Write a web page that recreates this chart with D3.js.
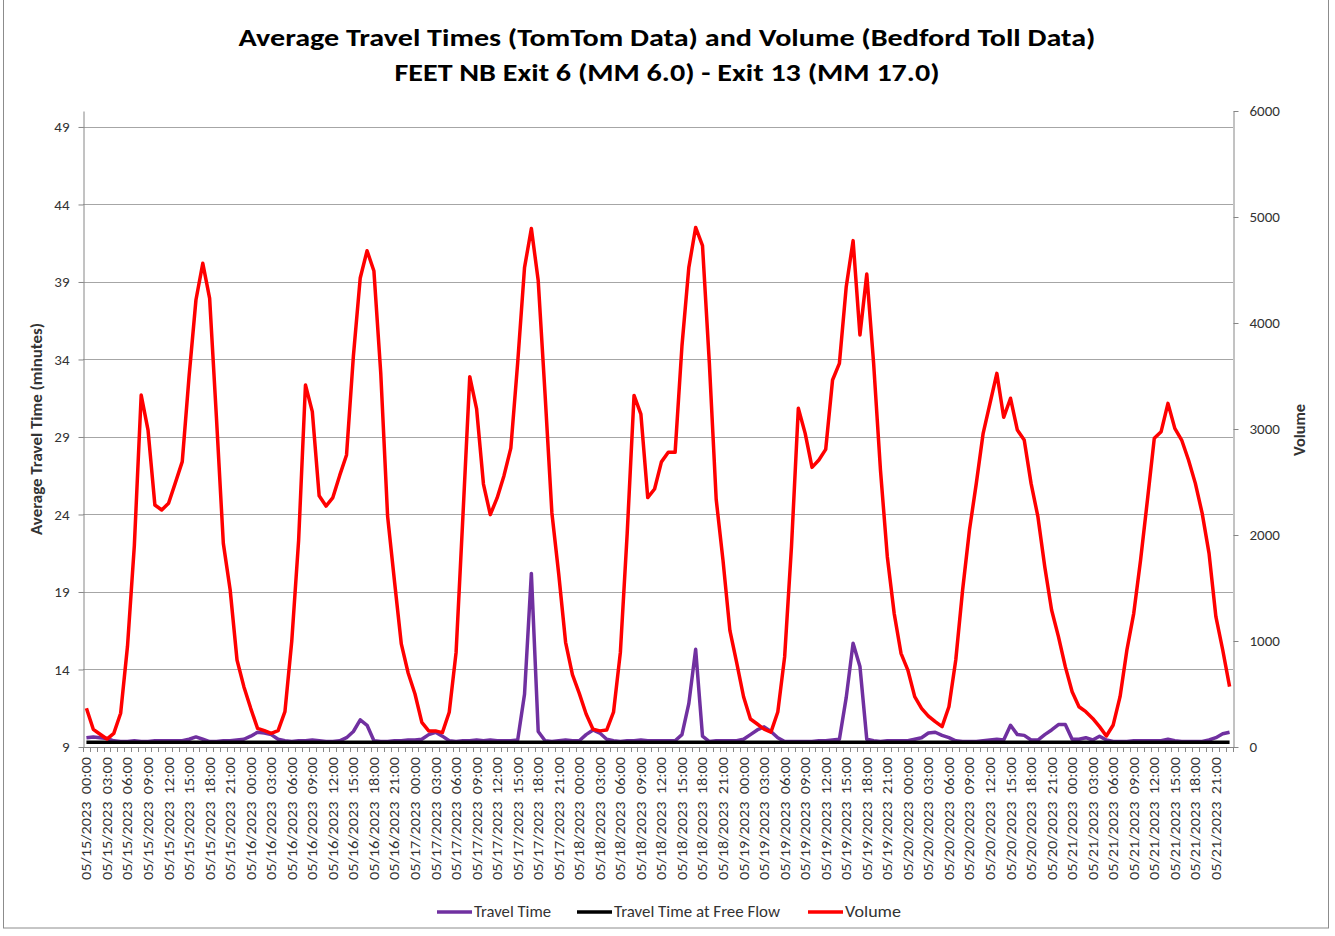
<!DOCTYPE html>
<html>
<head>
<meta charset="utf-8">
<script src="https://cdn.jsdelivr.net/npm/d3@7/dist/d3.min.js"></script>
<style>
body { margin: 0; background: #fff; }
svg { display: block; font-family: Calibri, Carlito, Lato, sans-serif; }
</style>
</head>
<body>
<svg id="chart" width="1335" height="936"></svg>
<script>
// ---- data ----
var days = ["05/15/2023", "05/16/2023", "05/17/2023", "05/18/2023", "05/19/2023", "05/20/2023", "05/21/2023"];
var hours = ["00:00", "01:00", "02:00", "03:00", "04:00", "05:00", "06:00", "07:00", "08:00", "09:00", "10:00", "11:00",
	"12:00", "13:00", "14:00", "15:00", "16:00", "17:00", "18:00", "19:00", "20:00", "21:00", "22:00", "23:00"];

// hourly volume (Bedford toll), one row per day
var volume = [
	365, 167, 120, 75, 129, 318, 950, 1900, 3320, 2990, 2283, 2236, 2299, 2494, 2692, 3500, 4217, 4563, 4233, 3100, 1921, 1481, 821, 569,
	365, 176, 154, 129, 154, 333, 1000, 1950, 3415, 3164, 2370, 2273, 2353, 2562, 2755, 3687, 4425, 4682, 4490, 3525, 2176, 1566, 972, 698,
	500, 232, 152, 152, 136, 328, 890, 2176, 3494, 3189, 2481, 2192, 2350, 2560, 2819, 3623, 4522, 4892, 4400, 3330, 2208, 1630, 988, 682,
	506, 312, 168, 152, 160, 328, 890, 2016, 3317, 3141, 2353, 2434, 2690, 2780, 2780, 3783, 4522, 4901, 4731, 3623, 2337, 1758, 1100, 794,
	474, 264, 217, 168, 140, 330, 850, 1890, 3195, 2959, 2638, 2708, 2808, 3462, 3619, 4343, 4777, 3887, 4462, 3619, 2613, 1795, 1261, 884,
	726, 475, 365, 292, 239, 192, 380, 821, 1481, 2047, 2487, 2959, 3242, 3525, 3110, 3290, 2990, 2896, 2487, 2173, 1701, 1292, 1041, 758,
	522, 380, 333, 270, 192, 104, 208, 475, 915, 1261, 1764, 2330, 2912, 2975, 3242, 3006, 2896, 2708, 2487, 2204, 1827, 1229, 915, 569
];

// hourly average travel time (TomTom), minutes
var travelTime = [
	9.6, 9.65, 9.6, 9.55, 9.4, 9.35, 9.35, 9.4, 9.35, 9.35, 9.4, 9.4, 9.4, 9.4, 9.4, 9.5, 9.65, 9.5, 9.35, 9.35, 9.4, 9.4, 9.45, 9.5,
	9.7, 9.95, 9.9, 9.8, 9.5, 9.4, 9.35, 9.4, 9.4, 9.45, 9.4, 9.35, 9.35, 9.4, 9.6, 10.0, 10.75, 10.4, 9.4, 9.35, 9.35, 9.4, 9.4, 9.45,
	9.45, 9.5, 9.8, 9.95, 9.7, 9.4, 9.35, 9.4, 9.4, 9.45, 9.4, 9.45, 9.4, 9.4, 9.4, 9.45, 12.4, 20.2, 10.0, 9.4, 9.35, 9.4, 9.45, 9.4,
	9.4, 9.8, 10.1, 9.9, 9.5, 9.4, 9.35, 9.4, 9.4, 9.45, 9.4, 9.4, 9.4, 9.4, 9.4, 9.8, 11.8, 15.3, 9.7, 9.35, 9.4, 9.4, 9.4, 9.4,
	9.5, 9.8, 10.1, 10.3, 10.0, 9.6, 9.35, 9.35, 9.35, 9.35, 9.35, 9.4, 9.4, 9.45, 9.5, 12.2, 15.7, 14.2, 9.5, 9.4, 9.35, 9.4, 9.4, 9.4,
	9.4, 9.5, 9.6, 9.9, 9.95, 9.75, 9.6, 9.4, 9.35, 9.35, 9.35, 9.4, 9.45, 9.5, 9.45, 10.4, 9.8, 9.75, 9.45, 9.45, 9.8, 10.1, 10.45, 10.45,
	9.5, 9.5, 9.6, 9.45, 9.7, 9.45, 9.35, 9.35, 9.35, 9.4, 9.4, 9.4, 9.4, 9.4, 9.5, 9.4, 9.35, 9.35, 9.35, 9.35, 9.45, 9.6, 9.85, 9.95
];

// travel time at free flow, minutes
var freeFlow = [
	9.3, 9.3, 9.3, 9.3, 9.3, 9.3, 9.3, 9.3, 9.3, 9.3, 9.3, 9.3, 9.3, 9.3, 9.3, 9.3, 9.3, 9.3, 9.3, 9.3, 9.3, 9.3, 9.3, 9.3,
	9.3, 9.3, 9.3, 9.3, 9.3, 9.3, 9.3, 9.3, 9.3, 9.3, 9.3, 9.3, 9.3, 9.3, 9.3, 9.3, 9.3, 9.3, 9.3, 9.3, 9.3, 9.3, 9.3, 9.3,
	9.3, 9.3, 9.3, 9.3, 9.3, 9.3, 9.3, 9.3, 9.3, 9.3, 9.3, 9.3, 9.3, 9.3, 9.3, 9.3, 9.3, 9.3, 9.3, 9.3, 9.3, 9.3, 9.3, 9.3,
	9.3, 9.3, 9.3, 9.3, 9.3, 9.3, 9.3, 9.3, 9.3, 9.3, 9.3, 9.3, 9.3, 9.3, 9.3, 9.3, 9.3, 9.3, 9.3, 9.3, 9.3, 9.3, 9.3, 9.3,
	9.3, 9.3, 9.3, 9.3, 9.3, 9.3, 9.3, 9.3, 9.3, 9.3, 9.3, 9.3, 9.3, 9.3, 9.3, 9.3, 9.3, 9.3, 9.3, 9.3, 9.3, 9.3, 9.3, 9.3,
	9.3, 9.3, 9.3, 9.3, 9.3, 9.3, 9.3, 9.3, 9.3, 9.3, 9.3, 9.3, 9.3, 9.3, 9.3, 9.3, 9.3, 9.3, 9.3, 9.3, 9.3, 9.3, 9.3, 9.3,
	9.3, 9.3, 9.3, 9.3, 9.3, 9.3, 9.3, 9.3, 9.3, 9.3, 9.3, 9.3, 9.3, 9.3, 9.3, 9.3, 9.3, 9.3, 9.3, 9.3, 9.3, 9.3, 9.3, 9.3
];

var leftTicks = [9, 14, 19, 24, 29, 34, 39, 44, 49];
var rightTicks = [0, 1000, 2000, 3000, 4000, 5000, 6000];

var series = [
	{ name: "Travel Time", color: "#7030a0" },
	{ name: "Travel Time at Free Flow", color: "#000000" },
	{ name: "Volume", color: "#ff0000" }
];

// ---- layout ----
var svg = d3.select("#chart");
var plot = { left: 83, right: 1233, top: 111, bottom: 747 };
var textColor = "#333333";

var categories = [];
days.forEach(function (d) {
	hours.forEach(function (h) { categories.push(d + "  " + h); });
});

var x = d3.scaleBand().domain(categories).range([plot.left, plot.right]);
var xc = function (c) { return x(c) + x.bandwidth() / 2; };
var yLeft = d3.scaleLinear().domain([9, 50.03]).range([plot.bottom, plot.top]);
var yRight = d3.scaleLinear().domain([0, 6000]).range([plot.bottom, plot.top]);

svg.append("rect").attr("width", 1335).attr("height", 936).attr("fill", "#fff");
svg.append("rect")
	.attr("x", 3.5).attr("y", -2).attr("width", 1325).attr("height", 930)
	.attr("fill", "none").attr("stroke", "#8c8c8c").attr("stroke-width", 1);

// titles
var title = svg.append("g").attr("font-weight", "bold").attr("fill", "#000").attr("text-anchor", "middle");
title.append("text").attr("x", 667).attr("y", 46).attr("font-size", 25)
	.attr("textLength", 857).attr("lengthAdjust", "spacingAndGlyphs")
	.text("Average Travel Times (TomTom Data) and Volume (Bedford Toll Data)");
title.append("text").attr("x", 667).attr("y", 81).attr("font-size", 25)
	.attr("textLength", 545).attr("lengthAdjust", "spacingAndGlyphs")
	.text("FEET NB Exit 6 (MM 6.0) - Exit 13 (MM 17.0)");

// gridlines
svg.append("g").selectAll("line")
	.data(leftTicks)
	.enter().append("line")
	.attr("x1", plot.left).attr("x2", plot.right)
	.attr("y1", function (d) { return Math.round(yLeft(d)) + 0.5; })
	.attr("y2", function (d) { return Math.round(yLeft(d)) + 0.5; })
	.attr("stroke", "#a6a6a6").attr("stroke-width", 1);

// left axis
var gLeft = svg.append("g")
	.attr("transform", "translate(" + (plot.left + 0.5) + ",0)")
	.call(d3.axisLeft(yLeft).tickValues(leftTicks).tickSizeInner(5).tickSizeOuter(0).tickPadding(9));
// right axis
var gRight = svg.append("g")
	.attr("transform", "translate(" + (plot.right + 0.5) + ",0)")
	.call(d3.axisRight(yRight).tickValues(rightTicks).tickFormat(d3.format("d"))
		.tickSizeInner(5).tickSizeOuter(0).tickPadding(11));

[gLeft, gRight].forEach(function (g) {
	g.select(".domain").attr("stroke", "#868686");
	g.selectAll(".tick line").attr("stroke", "#868686");
	g.selectAll(".tick text").attr("fill", textColor).attr("font-size", 15)
		.attr("font-family", "Calibri, Carlito, Lato, sans-serif");
});

// x axis: line, ticks between categories, labels every 3 hours
var gx = svg.append("g");
gx.append("line")
	.attr("x1", plot.left).attr("x2", plot.right + 1)
	.attr("y1", plot.bottom + 0.5).attr("y2", plot.bottom + 0.5)
	.attr("stroke", "#868686");
gx.selectAll(".xt")
	.data(categories.concat(["end"]))
	.enter().append("line")
	.attr("class", "xt")
	.attr("x1", function (d) { return Math.round(d === "end" ? plot.right : x(d)) + 0.5; })
	.attr("x2", function (d) { return Math.round(d === "end" ? plot.right : x(d)) + 0.5; })
	.attr("y1", plot.bottom).attr("y2", plot.bottom + 5)
	.attr("stroke", "#868686");
gx.selectAll(".xl")
	.data(categories.filter(function (d, i) { return i % 3 === 0; }))
	.enter().append("text")
	.attr("class", "xl")
	.attr("transform", function (d) { return "translate(" + (xc(d) + 5) + "," + (plot.bottom + 10) + ") rotate(-90)"; })
	.attr("text-anchor", "end")
	.attr("font-size", 14)
	.attr("fill", textColor)
	.attr("textLength", 123).attr("lengthAdjust", "spacingAndGlyphs")
	.style("white-space", "pre")
	.text(function (d) { return d; });

// axis titles
svg.append("text")
	.attr("transform", "translate(42,429) rotate(-90)")
	.attr("text-anchor", "middle").attr("font-size", 15).attr("font-weight", "bold").attr("fill", textColor)
	.attr("textLength", 212).attr("lengthAdjust", "spacingAndGlyphs")
	.text("Average Travel Time (minutes)");
svg.append("text")
	.attr("transform", "translate(1305,430) rotate(-90)")
	.attr("text-anchor", "middle").attr("font-size", 15).attr("font-weight", "bold").attr("fill", textColor)
	.attr("textLength", 52).attr("lengthAdjust", "spacingAndGlyphs")
	.text("Volume");

// lines
var lineLeft = d3.line()
	.x(function (d, i) { return xc(categories[i]); })
	.y(function (d) { return yLeft(d); });
var lineRight = d3.line()
	.x(function (d, i) { return xc(categories[i]); })
	.y(function (d) { return yRight(d); });

svg.append("path").attr("d", lineLeft(travelTime))
	.attr("fill", "none").attr("stroke", series[0].color).attr("stroke-width", 3.5).attr("stroke-linejoin", "round");
svg.append("path").attr("d", lineLeft(freeFlow))
	.attr("fill", "none").attr("stroke", series[1].color).attr("stroke-width", 3.5);
svg.append("path").attr("d", lineRight(volume))
	.attr("fill", "none").attr("stroke", series[2].color).attr("stroke-width", 3.5).attr("stroke-linejoin", "round");

// legend
var legendX = [437, 577, 808];
var legendW = [77, 166, 56];
var legend = svg.append("g");
series.forEach(function (s, i) {
	legend.append("line")
		.attr("x1", legendX[i]).attr("x2", legendX[i] + 35)
		.attr("y1", 912).attr("y2", 912)
		.attr("stroke", s.color).attr("stroke-width", 3.5);
	legend.append("text")
		.attr("x", legendX[i] + 37).attr("y", 917)
		.attr("font-size", 16).attr("fill", textColor)
		.attr("textLength", legendW[i]).attr("lengthAdjust", "spacingAndGlyphs")
		.text(s.name);
});
</script>
</body>
</html>
